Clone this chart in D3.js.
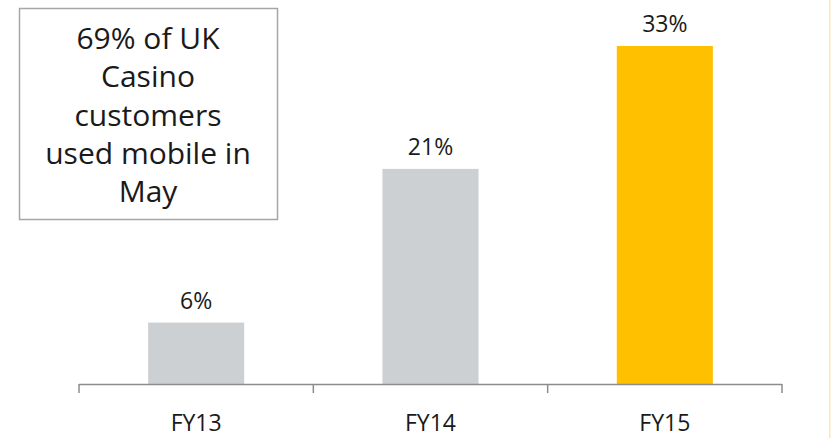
<!DOCTYPE html>
<html>
<head>
<meta charset="utf-8">
<script src="https://cdn.jsdelivr.net/npm/d3@7"></script>
<style>
  html, body { margin: 0; padding: 0; background: #fff; }
  svg { display: block; }
  text { font-family: "Open Sans", "Noto Sans", sans-serif; fill: #1a1a1a; }
</style>
</head>
<body>
<script>
// Share of customers on mobile, by fiscal year
const categories = ["FY13", "FY14", "FY15"];
const values = [6, 21, 33];
const valueLabels = ["6%", "21%", "33%"];
const barColors = ["#cdd0d3", "#cdd0d3", "#ffc000"];
const calloutLines = ["69% of UK", "Casino", "customers", "used mobile in", "May"];

const W = 831, H = 438;
const svg = d3.select("body").append("svg").attr("width", W).attr("height", H);

const x = d3.scaleBand().domain(categories).range([79, 782]).paddingInner(0.59).paddingOuter(0.295);
const y = d3.scaleLinear().domain([0, 33]).range([384, 46]);

// bars
svg.selectAll("rect.bar").data(values).enter().append("rect")
  .attr("class", "bar")
  .attr("x", (d, i) => x(categories[i]))
  .attr("width", x.bandwidth())
  .attr("y", d => y(d))
  .attr("height", d => y(0) - y(d))
  .attr("fill", (d, i) => barColors[i]);

// value labels
svg.selectAll("text.val").data(values).enter().append("text")
  .attr("class", "val")
  .attr("x", (d, i) => x(categories[i]) + x.bandwidth() / 2)
  .attr("y", d => y(d) - 14)
  .attr("text-anchor", "middle")
  .attr("font-size", 23)
  .text((d, i) => valueLabels[i]);

// category axis with boundary ticks
const axisG = svg.append("g").attr("transform", `translate(0,${y(0)})`);
axisG.append("line").attr("x1", 79).attr("x2", 782).attr("y1", 0.5).attr("y2", 0.5)
  .attr("stroke", "#8c8c8c").attr("stroke-width", 1.5);
const step = x.step();
const bounds = d3.range(categories.length + 1).map(i => 79 + i * step);
axisG.selectAll("line.tick").data(bounds).enter().append("line")
  .attr("class", "tick")
  .attr("x1", d => d).attr("x2", d => d)
  .attr("y1", 0).attr("y2", 9)
  .attr("stroke", "#8c8c8c").attr("stroke-width", 1.5);
axisG.selectAll("text.cat").data(categories).enter().append("text")
  .attr("class", "cat")
  .attr("x", d => x(d) + x.bandwidth() / 2)
  .attr("y", 47)
  .attr("text-anchor", "middle")
  .attr("font-size", 23)
  .text(d => d);

// callout box
svg.append("rect").attr("x", 19.5).attr("y", 8.5).attr("width", 258).attr("height", 211)
  .attr("fill", "#fff").attr("stroke", "#a6a6a6").attr("stroke-width", 1.5);
svg.selectAll("text.callout").data(calloutLines).enter().append("text")
  .attr("class", "callout")
  .attr("x", 148)
  .attr("y", (d, i) => 49 + i * 38.3)
  .attr("text-anchor", "middle")
  .attr("font-size", 30)
  .text(d => d);

// slide edge accent
svg.append("rect").attr("x", 829).attr("y", 0).attr("width", 1.5).attr("height", H).attr("fill", "#fde8ad");
</script>
</body>
</html>
